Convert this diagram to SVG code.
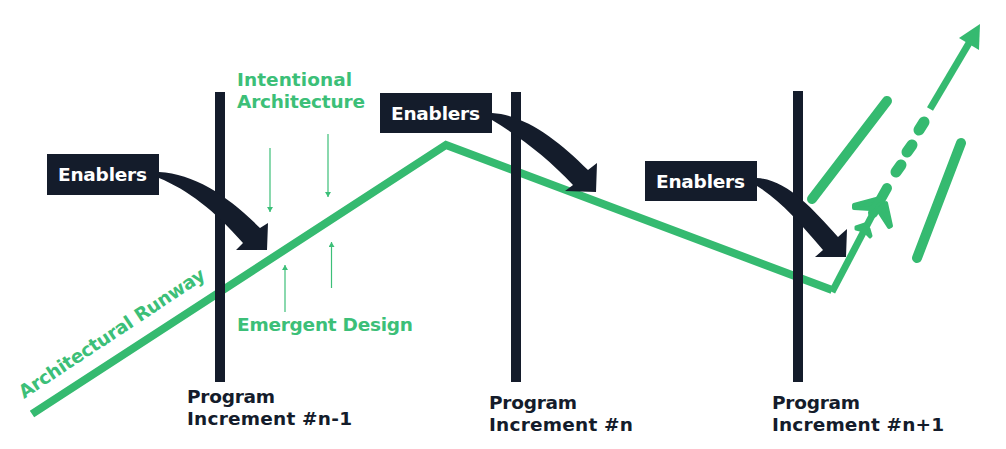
<svg xmlns="http://www.w3.org/2000/svg" width="1006" height="449" viewBox="0 0 1006 449">
<style>
text{font-family:"DejaVu Sans","Liberation Sans",sans-serif;font-weight:700;font-size:18.500px}
.g{fill:#3cbf78}.d{fill:#141c2b}.w{fill:#fff}
.bar{fill:#141c2b}.box{fill:#141c2b}
.thin{stroke:#3cbf78;stroke-width:1.2;fill:none;marker-end:url(#tip)}
.fl{stroke:#35ba70;fill:none}
</style>
<defs><marker id="tip" markerUnits="userSpaceOnUse" markerWidth="6" markerHeight="6" refX="5" refY="3" orient="auto"><path d="M0 0L5 3L0 6Z" fill="#3cbf78"/></marker></defs>
<rect width="1006" height="449" fill="#fff"/>
<g id="connectors">
<path class="fl" stroke-width="8" d="M32 414L446 145L832 290"/>
<path class="fl" stroke-width="7" d="M832 292L876 208"/>
<path class="fl" stroke-width="7" d="M930 109L972 38"/>
<path fill="#35ba70" d="M980 24L959 38L979 50Z"/>
<path class="thin" d="M270 148V212"/>
<path class="thin" d="M328 134V197"/>
<path class="thin" d="M285 312V265"/>
<path class="thin" d="M331.500 288V242"/>
</g>
<g id="bars">
<rect class="bar" x="215" y="92" width="10" height="290"/>
<rect class="bar" x="511" y="92" width="10" height="290"/>
<rect class="bar" x="793" y="91" width="10" height="291"/>
</g>
<g id="runway-marks" class="fl" stroke-linecap="round">
<path stroke-width="10" d="M812 199L887 101"/>
<path stroke-width="10" d="M917 258L961 143"/>
<path stroke-width="11" d="M924 122L919 130M912 145L907 152M901 165L896 172"/>
</g>
<g id="plane" fill="#35ba70" stroke="#35ba70" stroke-linejoin="round">
<path fill="none" stroke-width="10" stroke-linecap="round" d="M887 188L873 213"/>
<path stroke-width="4" d="M854 205L880 198L871 209L854 208Z"/>
<path stroke-width="4" d="M886 203L891 226L889 227L878 210Z"/>
<path stroke-width="3" d="M856 227L865 224L869 229L871 236L870 237L864 231L856 229Z"/>
</g>
<g id="arrow-1" class="d"><path d="M159 172C195 174 228 196 260 228L268 223L267 250L236 250L243 243C214 210 188 190 159 178Z"/></g>
<g id="arrow-2" class="d"><path d="M492 113C525 115 558 140 588 170L597 163L596 192L565 191L573 185C548 158 520 137 492 120Z"/></g>
<g id="arrow-3" class="d"><path d="M757 178C787 180 812 208 838 237L847 229L846 257L815 257L823 250C800 223 780 200 757 186Z"/></g>
<g id="enablers-1"><rect class="box" x="47" y="154" width="112" height="41"/><text class="w" x="58" y="181" textLength="89">Enablers</text></g>
<g id="enablers-2"><rect class="box" x="380" y="93" width="112" height="40"/><text class="w" x="391" y="120" textLength="89">Enablers</text></g>
<g id="enablers-3"><rect class="box" x="645" y="161" width="112" height="40"/><text class="w" x="656" y="188" textLength="89">Enablers</text></g>
<g id="labels">
<text class="g" x="237" y="86" textLength="115">Intentional</text>
<text class="g" x="237" y="108" textLength="128">Architecture</text>
<text class="g" x="237" y="331" textLength="176">Emergent Design</text>
<text class="g" transform="translate(24 399) rotate(-33.500)" textLength="219">Architectural Runway</text>
<text class="d" x="187" y="403" textLength="88">Program</text>
<text class="d" x="187" y="425" textLength="165">Increment #n-1</text>
<text class="d" x="489" y="409" textLength="88">Program</text>
<text class="d" x="489" y="431" textLength="144">Increment #n</text>
<text class="d" x="772" y="409" textLength="88">Program</text>
<text class="d" x="772" y="431" textLength="172">Increment #n+1</text>
</g>
</svg>
